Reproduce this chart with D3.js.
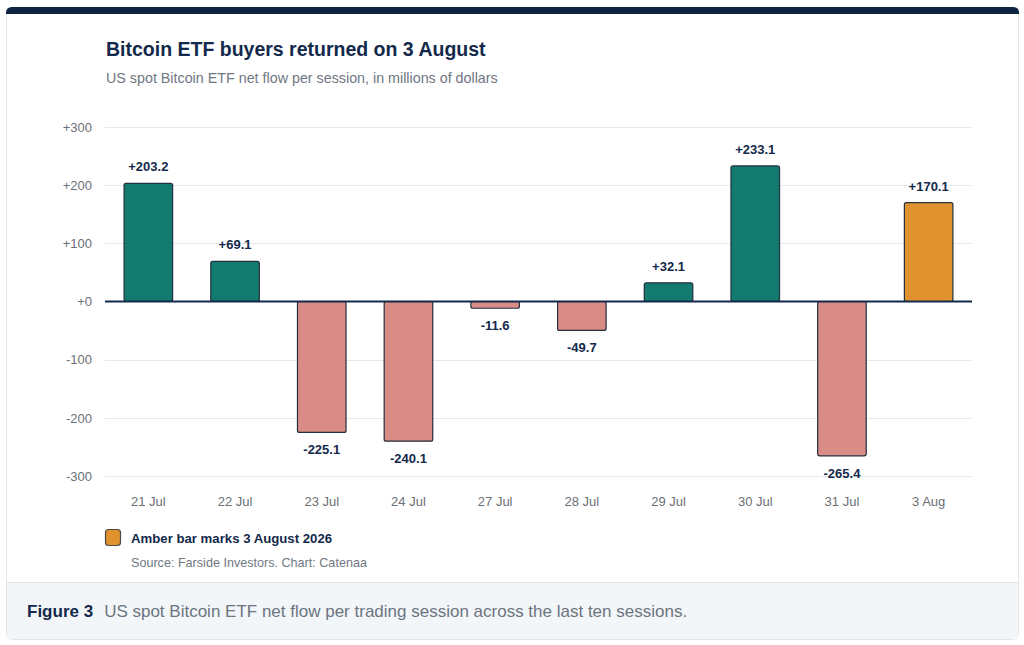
<!DOCTYPE html>
<html>
<head>
<meta charset="utf-8">
<script src="https://cdn.jsdelivr.net/npm/d3@7/dist/d3.min.js"></script>
<style>
  html, body { margin: 0; padding: 0; background: #fff; }
  svg { display: block; font-family: "Liberation Sans", Arial, Helvetica, sans-serif; }
</style>
</head>
<body>
<script>
// Data
var sessions = ["21 Jul", "22 Jul", "23 Jul", "24 Jul", "27 Jul", "28 Jul", "29 Jul", "30 Jul", "31 Jul", "3 Aug"];
var flows = [203.2, 69.1, -225.1, -240.1, -11.6, -49.7, 32.1, 233.1, -265.4, 170.1];
var yTicks = [-300, -200, -100, 0, 100, 200, 300];
var highlight = "3 Aug";

var W = 1024, H = 645;
var plot = {left: 105, right: 972, top: 127, bottom: 476};

var svg = d3.select("body").append("svg")
    .attr("width", W)
    .attr("height", H);

// Card + header strip
svg.append("rect")
    .attr("x", 6.5).attr("y", 7.5)
    .attr("width", 1012).attr("height", 632)
    .attr("rx", 6)
    .attr("fill", "#fff")
    .attr("stroke", "#e2e6eb");

svg.append("path")
    .attr("d", "M6,14 V13 Q6,7 12,7 H1013 Q1019,7 1019,13 V14 Z")
    .attr("fill", "#0d2340");

// Caption panel
svg.append("path")
    .attr("d", "M7,582 H1018 V634 Q1018,639 1013,639 H12 Q7,639 7,634 Z")
    .attr("fill", "#f3f6f9");
svg.append("line")
    .attr("x1", 7).attr("x2", 1018)
    .attr("y1", 582.5).attr("y2", 582.5)
    .attr("stroke", "#e2e6eb");

// Title
svg.append("text")
    .attr("x", 106).attr("y", 56)
    .attr("fill", "#13294b")
    .style("font-size", "19.5px")
    .style("font-weight", "bold")
    .text("Bitcoin ETF buyers returned on 3 August");

svg.append("text")
    .attr("x", 106).attr("y", 83)
    .attr("fill", "#6f7782")
    .style("font-size", "14.3px")
    .text("US spot Bitcoin ETF net flow per session, in millions of dollars");

// Scales
var x = d3.scaleBand()
    .domain(sessions)
    .range([plot.left, plot.right])
    .paddingInner(0.44)
    .paddingOuter(0.22);

var y = d3.scaleLinear()
    .domain([-300, 300])
    .range([plot.bottom, plot.top]);

// Gridlines
svg.append("g")
  .selectAll("line")
  .data(yTicks.filter(function(d) { return d !== 0; }))
  .enter().append("line")
    .attr("x1", plot.left).attr("x2", plot.right)
    .attr("y1", function(d) { return Math.round(y(d)) + 0.5; })
    .attr("y2", function(d) { return Math.round(y(d)) + 0.5; })
    .attr("stroke", "#e6e8eb")
    .attr("stroke-width", 1);

// Y axis
var yAxis = svg.append("g")
    .attr("transform", "translate(" + plot.left + ",0)")
    .call(d3.axisLeft(y)
        .tickValues(yTicks)
        .tickSize(0)
        .tickPadding(13)
        .tickFormat(function(d) { return d >= 0 ? "+" + d : String(d); }));
yAxis.select(".domain").remove();
yAxis.selectAll("text")
    .attr("fill", "#6b6f75")
    .style("font-size", "13px")
    .style("font-family", "inherit");

// X axis
var xAxis = svg.append("g")
    .attr("transform", "translate(0," + plot.bottom + ")")
    .call(d3.axisBottom(x).tickSize(0).tickPadding(21));
xAxis.select(".domain").remove();
xAxis.selectAll("text")
    .attr("fill", "#6b6f75")
    .style("font-size", "13px")
    .style("font-family", "inherit");

// Bars
function barColor(d, i) {
  if (sessions[i] === highlight) return "#e0922f";
  return d >= 0 ? "#137a70" : "#d98b86";
}

svg.append("g")
  .selectAll("rect")
  .data(flows)
  .enter().append("rect")
    .attr("x", function(d, i) { return x(sessions[i]); })
    .attr("y", function(d) { return y(Math.max(0, d)); })
    .attr("width", x.bandwidth())
    .attr("height", function(d) { return Math.abs(y(d) - y(0)); })
    .attr("rx", 2)
    .attr("fill", barColor)
    .attr("stroke", "#22303f")
    .attr("stroke-width", 1.2);

// Zero line
svg.append("line")
    .attr("x1", plot.left).attr("x2", plot.right)
    .attr("y1", y(0)).attr("y2", y(0))
    .attr("stroke", "#13294b")
    .attr("stroke-width", 2);

// Value labels
svg.append("g")
  .selectAll("text")
  .data(flows)
  .enter().append("text")
    .attr("x", function(d, i) { return x(sessions[i]) + x.bandwidth() / 2; })
    .attr("y", function(d) { return d >= 0 ? y(d) - 12 : y(d) + 22; })
    .attr("text-anchor", "middle")
    .attr("fill", "#13294b")
    .style("font-size", "13px")
    .style("font-weight", "bold")
    .text(function(d) { return (d >= 0 ? "+" : "") + d.toFixed(1); });

// Legend
svg.append("rect")
    .attr("x", 105.5).attr("y", 529.5)
    .attr("width", 15).attr("height", 16)
    .attr("rx", 3)
    .attr("fill", "#e0922f")
    .attr("stroke", "#4a4a4a")
    .attr("stroke-width", 1.2);

svg.append("text")
    .attr("x", 131).attr("y", 543)
    .attr("fill", "#13294b")
    .style("font-size", "13.2px")
    .style("font-weight", "bold")
    .text("Amber bar marks 3 August 2026");

svg.append("text")
    .attr("x", 131).attr("y", 567)
    .attr("fill", "#6f7782")
    .style("font-size", "12.6px")
    .text("Source: Farside Investors. Chart: Catenaa");

// Caption
var cap = svg.append("text")
    .attr("x", 27).attr("y", 617)
    .style("font-size", "17px");
cap.append("tspan")
    .attr("fill", "#13294b")
    .style("font-weight", "bold")
    .text("Figure 3");
cap.append("tspan")
    .attr("dx", 11)
    .attr("fill", "#6b7480")
    .text("US spot Bitcoin ETF net flow per trading session across the last ten sessions.");
</script>
</body>
</html>
